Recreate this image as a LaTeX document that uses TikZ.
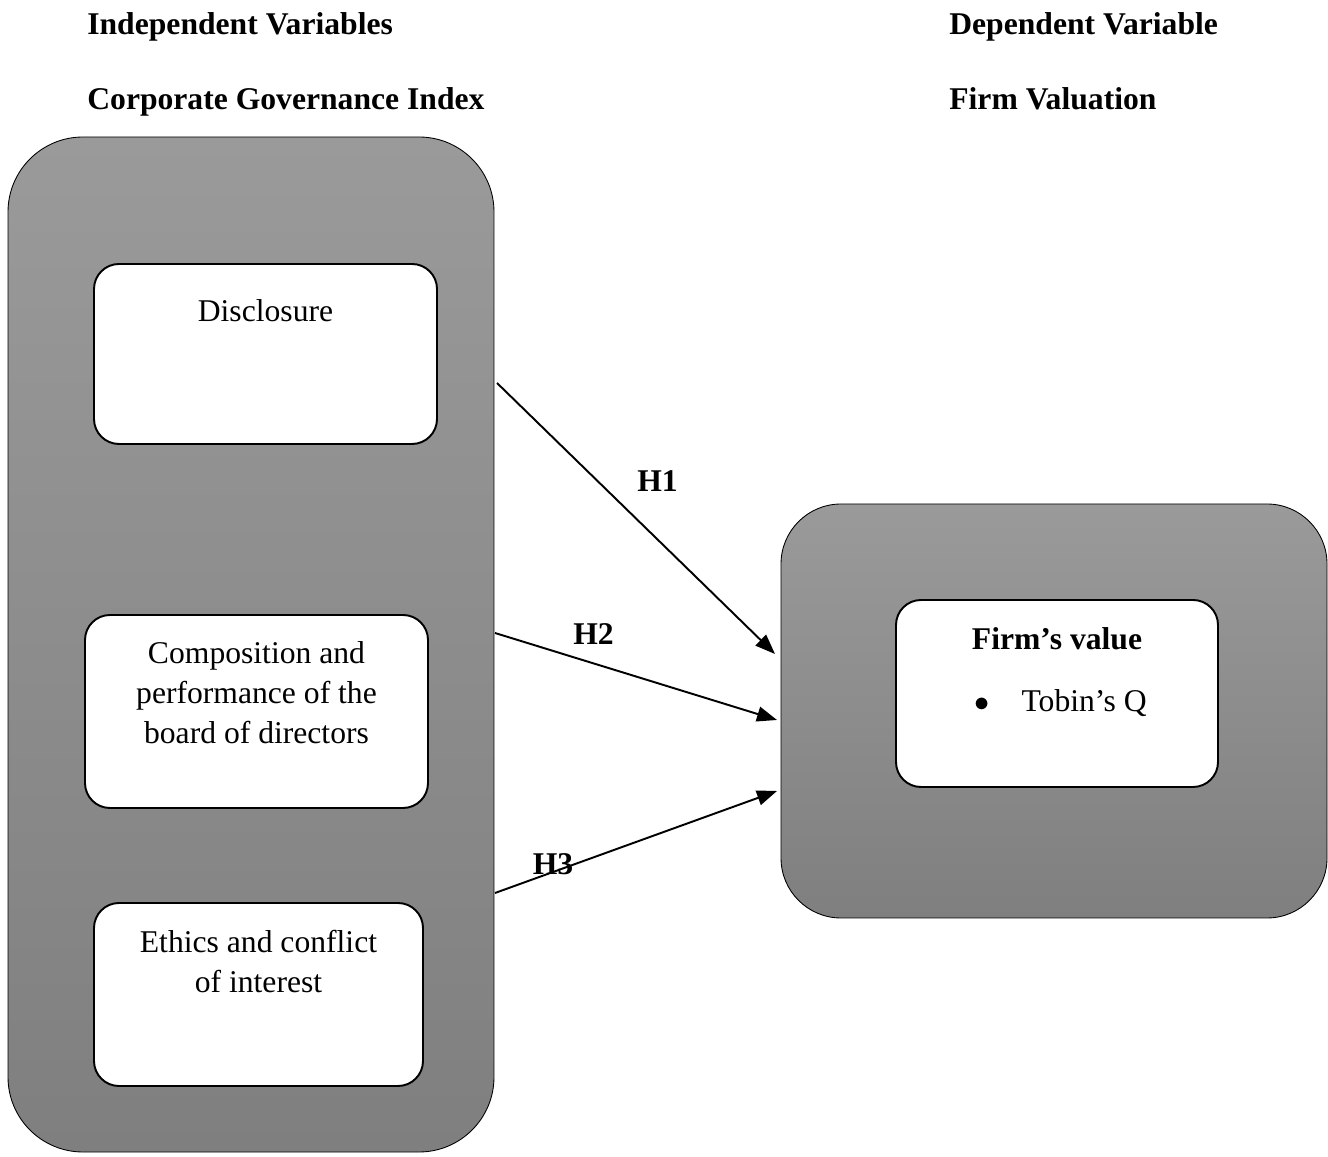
\documentclass[tikz,border=0pt]{standalone}
\usepackage{fontspec}
\setmainfont{Liberation Serif}
\usepackage{tikz}
\usetikzlibrary{positioning,arrows.meta}
\usepackage{xcolor}
\definecolor{shadetop}{HTML}{9A9A9A}
\definecolor{shadebottom}{HTML}{7F7F7F}

\begin{document}
\begin{tikzpicture}[font=\fontsize{18}{22.8}\selectfont]
\tikzstyle{panel}=[draw=black,line width=0.5pt,top color=shadetop,bottom color=shadebottom]
\tikzstyle{factor}=[draw=black,line width=1.1pt,fill=white,rounded corners=0.5cm]
\tikzstyle{caption}=[inner sep=0pt,align=center]
\tikzstyle{heading}=[inner sep=0pt,anchor=base west,font=\fontsize{18}{22.8}\selectfont\bfseries]
\tikzstyle{hyplabel}=[inner sep=0pt,anchor=base,font=\fontsize{18}{22.8}\selectfont\bfseries]
\tikzstyle{hyp}=[-{Triangle[length=0.4cm,width=0.3cm]},line width=1.1pt]
\useasboundingbox (0,0) rectangle (26.56,23.12);
\node[heading] (indep) at (1.74,22.42) {Independent Variables};
\node[heading] (cgtitle) at (1.74,20.92) {Corporate Governance Index};
\node[heading] (dep) at (18.98,22.42) {Dependent Variable};
\node[heading] (fvtitle) at (18.98,20.92) {Firm Valuation};
\node[panel,rounded corners=1.5cm,minimum width=9.72cm,minimum height=20.3cm] (cgindex) at (5.02,10.23) {};
\node[panel,rounded corners=1.2cm,minimum width=10.92cm,minimum height=8.28cm] (valuation) at (21.08,8.9) {};
\node[factor,minimum width=6.86cm,minimum height=3.6cm] (disclosure) at (5.31,16.04) {};
\node[caption,below=0.72cm of disclosure.north] (disclosuretext) {Disclosure};
\node[factor,minimum width=6.86cm,minimum height=3.86cm] (board) at (5.13,8.89) {};
\node[caption,below=0.54cm of board.north] (boardtext) {Composition and\\performance of the\\board of directors};
\node[factor,minimum width=6.58cm,minimum height=3.66cm] (ethics) at (5.17,3.23) {};
\node[caption,below=0.56cm of ethics.north] (ethicstext) {Ethics and conflict\\of interest};
\node[factor,minimum width=6.44cm,minimum height=3.74cm] (firmvalue) at (21.14,9.25) {};
\node[caption,below=0.56cm of firmvalue.north] (firmtitle) {\textbf{Firm’s value}};
\node[caption,anchor=base west] (tobin) at (19.48,8.88) {$\bullet$\hspace{0.64cm}Tobin’s Q};
\node[hyplabel] (h1) at (13.15,13.28) {H1};
\node[hyplabel] (h2) at (11.87,10.22) {H2};
\node[hyplabel] (h3) at (11.06,5.62) {H3};
\coordinate (h1from) at (9.94,15.46);
\coordinate (h1to) at (15.5,10.04);
\coordinate (h2from) at (9.9,10.46);
\coordinate (h2to) at (15.54,8.72);
\coordinate (h3from) at (9.9,5.26);
\coordinate (h3to) at (15.54,7.3);
\draw[hyp] (h1from) -- (h1to);
\draw[hyp] (h2from) -- (h2to);
\draw[hyp] (h3from) -- (h3to);
\end{tikzpicture}
\end{document}
